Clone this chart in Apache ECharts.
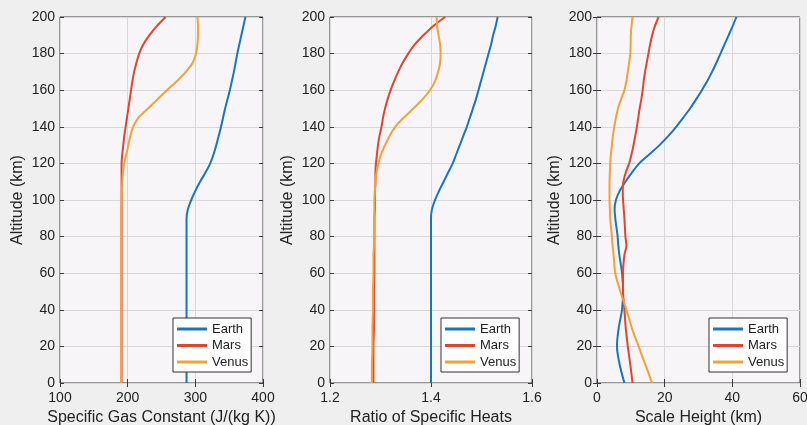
<!DOCTYPE html>
<html>
<head>
<meta charset="utf-8">
<script src="https://cdn.jsdelivr.net/npm/echarts@6/dist/echarts.min.js"></script>
<style>
html,body{margin:0;padding:0;background:#efefef;}
#chart{width:807px;height:425px;}
</style>
</head>
<body>
<div id="chart"></div>
<script>
// Altitude (km)
const altitude = [0,10,20,30,40,50,60,70,75,80,90,95,100,105,110,115,120,125,130,135,140,145,150,155,160,165,170,175,180,185,190,195,200];

// Specific gas constant (J/(kg K))
const gasEarth = [287,287,287,287,287,287,287,287,287,287,287,289,294,300,307,315,322,327,331,334.5,338,341,344,347.5,351,354,357,359.5,362,365,368,371,374];
const gasMars  = [191,191,191,191,191,191,191,191,191,191,191,191,191,191,191,191,191,192,193.5,195,197,199,201,203,205,207,209.5,213,217,223,232,243,256];
const gasVenus = [190.5,190.5,190.5,190.5,190.5,190.5,190.5,190.5,190.5,190.5,190.5,190.5,191,191.5,192,193,195,198,201,204,208,216,230,244,258,273,286,296,301,303,304,304,303];

// Ratio of specific heats
const gamEarth = [1.400,1.400,1.400,1.400,1.400,1.400,1.400,1.400,1.400,1.400,1.400,1.402,1.408,1.416,1.425,1.434,1.443,1.450,1.457,1.464,1.471,1.477,1.483,1.489,1.494,1.499,1.504,1.509,1.514,1.519,1.523,1.528,1.532];
const gamMars  = [1.286,1.286,1.286,1.287,1.287,1.287,1.288,1.288,1.288,1.288,1.288,1.289,1.289,1.289,1.290,1.290,1.291,1.293,1.295,1.298,1.302,1.305,1.309,1.314,1.320,1.327,1.335,1.344,1.355,1.368,1.385,1.404,1.428];
const gamVenus = [1.283,1.283,1.284,1.284,1.285,1.285,1.286,1.286,1.287,1.287,1.288,1.288,1.288,1.289,1.290,1.292,1.296,1.301,1.309,1.318,1.329,1.346,1.365,1.383,1.398,1.408,1.414,1.418,1.419,1.418,1.415,1.412,1.411];

// Scale height (km)
const hEarth = [8.1,6.7,5.9,6.4,7.4,7.7,7.4,6.6,6.3,6.1,5.4,5.2,5.6,6.7,8.4,10.3,12.5,15.5,18.5,21.1,23.4,25.5,27.5,29.3,31.0,32.6,34.0,35.3,36.5,37.7,38.9,40.1,41.2];
const hMars  = [10.5,9.85,9.1,8.5,8.1,7.7,7.7,8.1,8.7,8.4,8.1,7.9,7.7,7.6,7.8,8.5,9.5,10.2,10.8,11.3,11.8,12.2,12.6,13.1,13.5,13.8,14.2,14.7,15.2,15.7,16.3,17.1,18.2];
const hVenus = [16.3,14.3,12.3,10.3,8.7,6.9,5.4,4.9,4.6,4.4,3.9,3.8,3.7,3.7,3.7,3.8,3.9,4.1,4.4,4.7,5.1,5.6,6.2,7.1,8.1,8.7,9.1,9.5,9.85,9.95,10.0,10.2,10.5];

const planets = ['Earth','Mars','Venus'];
const colors = {Earth:'#1a75bf', Mars:'#e0452f', Venus:'#f5a03a'};

const panels = [
  {name:'Specific Gas Constant (J/(kg K))', min:100, max:400, interval:100, left:60, width:203, legendLeft:173,
   data:{Earth:gasEarth, Mars:gasMars, Venus:gasVenus}, fmt:v=>String(v)},
  {name:'Ratio of Specific Heats', min:1.2, max:1.6, interval:0.2, left:330, width:202, legendLeft:441,
   data:{Earth:gamEarth, Mars:gamMars, Venus:gamVenus}, fmt:v=>v.toFixed(1)},
  {name:'Scale Height (km)', min:0, max:60, interval:20, left:597, width:203, legendLeft:709,
   data:{Earth:hEarth, Mars:hMars, Venus:hVenus}, fmt:v=>String(v)}
];

const font = "'Liberation Sans', Arial, Helvetica, sans-serif";
const txt = '#222';
const grid=[], xAxis=[], yAxis=[], series=[], legend=[];

panels.forEach((p,i)=>{
  grid.push({left:p.left, top:17, width:p.width, height:366, show:true, containLabel:false,
    outerBoundsMode:'none',
    backgroundColor:'#f7f5f7', borderColor:'#3a3a3a', borderWidth:1});
  xAxis.push({type:'value', gridIndex:i, min:p.min, max:p.max, interval:p.interval, position:'bottom',
    name:p.name, nameLocation:'middle', nameGap:26,
    nameTextStyle:{fontFamily:font, fontSize:16, color:txt},
    axisLine:{show:false}, axisTick:{show:true, inside:true, length:4, lineStyle:{color:'#3a3a3a'}},
    axisLabel:{fontFamily:font, fontSize:14, color:txt, margin:8, formatter:p.fmt},
    splitLine:{show:true, lineStyle:{color:'#d8d8d8', width:1}}});
  xAxis.push({type:'value', gridIndex:i, min:p.min, max:p.max, interval:p.interval, position:'top',
    axisLine:{show:false}, axisTick:{show:true, inside:true, length:4, lineStyle:{color:'#3a3a3a'}},
    axisLabel:{show:false}, splitLine:{show:false}});
  yAxis.push({type:'value', gridIndex:i, min:0, max:200, interval:20, position:'left',
    name:'Altitude (km)', nameLocation:'middle', nameGap:34,
    nameTextStyle:{fontFamily:font, fontSize:16, color:txt},
    axisLine:{show:false}, axisTick:{show:true, inside:true, length:4, lineStyle:{color:'#3a3a3a'}},
    axisLabel:{fontFamily:font, fontSize:14, color:txt, margin:5},
    splitLine:{show:true, lineStyle:{color:'#d8d8d8', width:1}}});
  yAxis.push({type:'value', gridIndex:i, min:0, max:200, interval:20, position:'right',
    axisLine:{show:false}, axisTick:{show:true, inside:true, length:4, lineStyle:{color:'#3a3a3a'}},
    axisLabel:{show:false}, splitLine:{show:false}});
  planets.forEach(pl=>{
    series.push({name:pl, type:'line', xAxisIndex:2*i, yAxisIndex:2*i,
      data:altitude.map((a,k)=>[p.data[pl][k], a]),
      showSymbol:false, smooth:0.25, lineStyle:{width:2, color:colors[pl]}, itemStyle:{color:colors[pl]},
      z:3});
  });
  legend.push({data:planets, orient:'vertical', left:p.legendLeft, top:318,
    backgroundColor:'#ffffff', borderColor:'#333', borderWidth:1, borderRadius:0,
    padding:[4,3,3,4], itemGap:2.5, itemWidth:30, itemHeight:3, icon:'rect',
    textStyle:{fontFamily:font, fontSize:13, color:txt, lineHeight:14}, selectedMode:false});
});

const chart = echarts.init(document.getElementById('chart'), null, {renderer:'canvas'});
chart.setOption({backgroundColor:'#efefef', animation:false, color:[colors.Earth,colors.Mars,colors.Venus],
  grid, xAxis, yAxis, series, legend});
</script>
</body>
</html>
